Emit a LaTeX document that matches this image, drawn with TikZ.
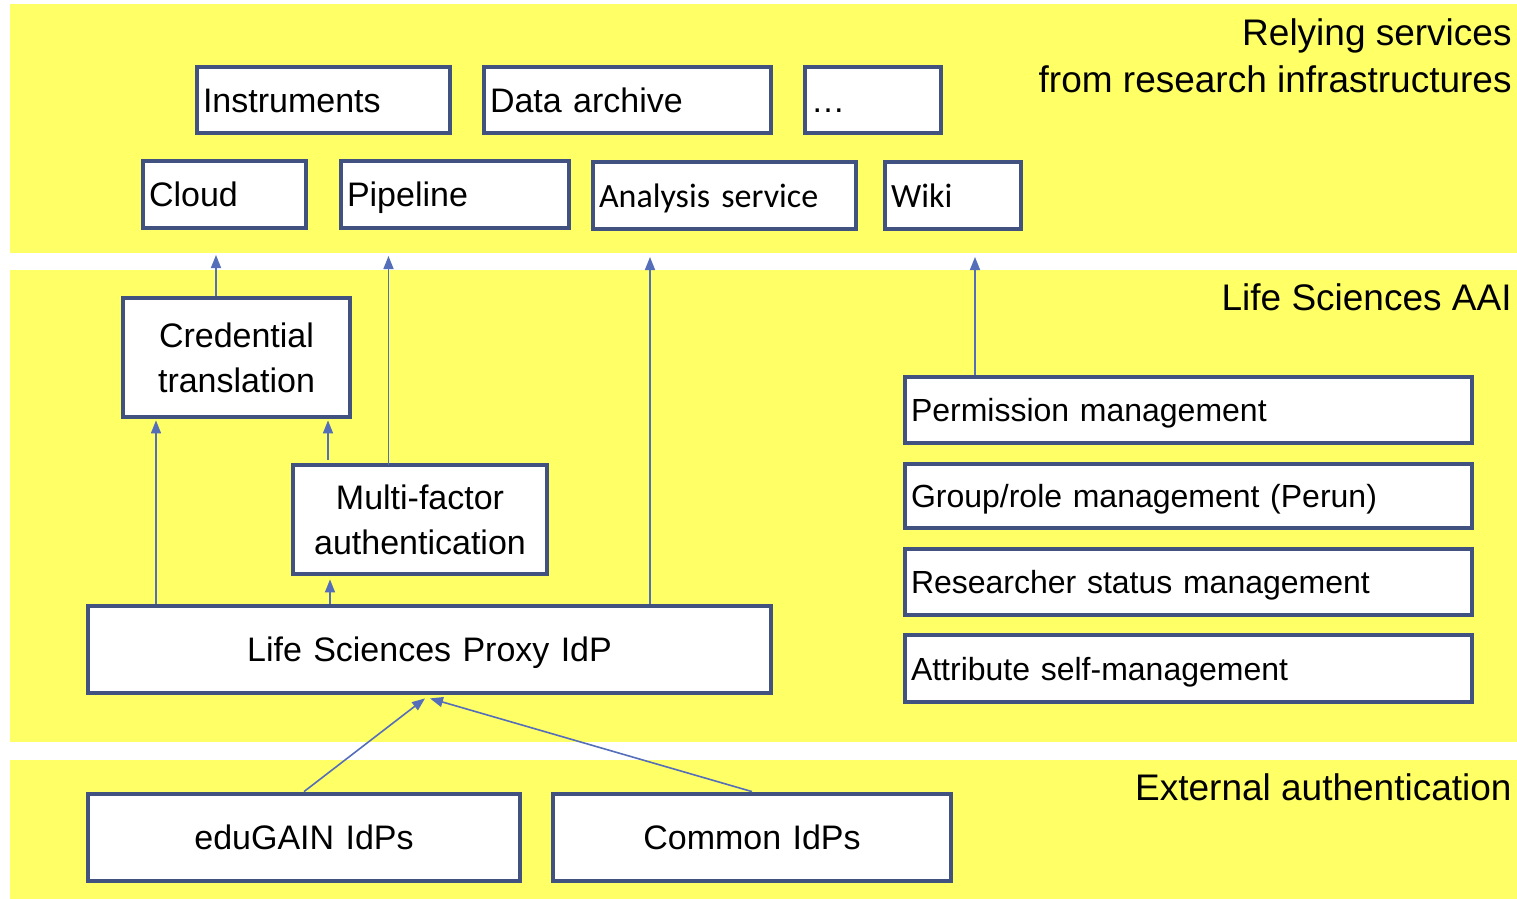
\documentclass[tikz,border=0pt]{standalone}
\usepackage{fontspec}
\setmainfont{Liberation Sans}
\newfontfamily\carlito{Carlito}
\usetikzlibrary{arrows.meta,calc}
\definecolor{bandy}{HTML}{FFFF66}
\definecolor{boxc}{RGB}{66,82,128}
\definecolor{arrc}{RGB}{85,110,185}
\tikzset{
  band/.style={fill=bandy, draw=none},
  box/.style={draw=boxc, line width=2.4pt, fill=white, inner xsep=3pt, inner ysep=0pt, align=left},
  one/.style={text height=12.2pt, text depth=0pt},
  onesm/.style={text height=11.5pt, text depth=0pt},
  ftb/.style={font=\fontsize{17}{22.5}\selectfont},
  fts/.style={font=\fontsize{16}{20}\selectfont},
  ftl/.style={font=\fontsize{18.5}{23.5}\selectfont},
  conn/.style={draw=arrc, line width=0.8pt, -{Triangle[length=6.5pt,width=5pt]}},
  lab/.style={ftl, inner sep=0pt, anchor=base east}
}
\begin{document}
\begin{tikzpicture}[x=0.5pt, y=-0.5pt]
\useasboundingbox (0,0) rectangle (1517,899);
% bands
\fill[band] (10,4) rectangle (1517,253);
\fill[band] (10,270) rectangle (1517,742);
\fill[band] (10,760) rectangle (1517,899);
% labels
\node[lab] (rs1) at (1512,46) {Relying services};
\node[lab] (rs2) at (1512,93) {from research infrastructures};
\node[lab] (lsaai) at (1512,310) {Life Sciences AAI};
\node[lab] (ext) at (1512,800) {External authentication};
% top services
\node[box, one, ftb, minimum height=33pt, text width=120.5pt] (instr) at (323.5,100) {Instruments};
\node[box, one, ftb, minimum height=33pt, text width=137.5pt] (arch) at (627.5,100) {Data archive};
\node[box, one, ftb, minimum height=33pt, text width=62pt] (dots) at (873,100) {\dots};
\node[box, one, ftb, minimum height=33.5pt, text width=75.5pt] (cloud) at (224.5,194.5) {Cloud};
\node[box, one, ftb, minimum height=33.5pt, text width=108pt] (pipe) at (455,194.5) {Pipeline};
\node[box, one, ftb, font=\carlito\fontsize{17}{22.5}\selectfont, minimum height=33.5pt, text width=125.5pt] (anal) at (724.5,195.5) {Analysis service};
\node[box, one, ftb, font=\carlito\fontsize{17}{22.5}\selectfont, minimum height=33.5pt, text width=62pt] (wiki) at (953,195.5) {Wiki};
% AAI
\node[box, ftb, align=center, minimum height=59.5pt, text width=107.5pt] (cred) at (236.5,357.5) {Credential\\translation};
\node[box, ftb, align=center, minimum height=54.5pt, text width=121pt] (mfa) at (420,519.5) {Multi-factor\\authentication};
\node[box, one, ftb, align=center, minimum height=43.5pt, text width=335.5pt] (proxy) at (429.5,649.5) {Life Sciences Proxy IdP};
\node[box, onesm, fts, minimum height=33pt, text width=277.5pt] (perm) at (1188.5,410) {Permission management};
\node[box, onesm, fts, minimum height=32pt, text width=277.5pt] (group) at (1188.5,496) {Group/role management (Perun)};
\node[box, onesm, fts, minimum height=33pt, text width=277.5pt] (res) at (1188.5,582) {Researcher status management};
\node[box, onesm, fts, minimum height=33.5pt, text width=277.5pt] (attr) at (1188.5,668.5) {Attribute self-management};
% external
\node[box, one, ftb, align=center, minimum height=43.5pt, text width=210pt] (edu) at (304,837.5) {eduGAIN IdPs};
\node[box, one, ftb, align=center, minimum height=43.5pt, text width=193pt] (com) at (752,837.5) {Common IdPs};
% connectors
\coordinate (t1) at (216,255);
\coordinate (t2) at (388.5,256);
\coordinate (t3) at (650,257);
\coordinate (t4) at (975,257);
\coordinate (x1) at (156,500);
\coordinate (x2) at (328,500);
\coordinate (x3) at (330,500);
\draw[conn] (cred.north -| t1) -- (t1);
\draw[conn] ([yshift=-1pt]mfa.north -| t2) -- (t2);
\draw[conn] (proxy.north -| t3) -- (t3);
\draw[conn] (perm.north -| t4) -- (t4);
\draw[conn] (proxy.north -| x1) -- ([yshift=-0.5pt]cred.south -| x1);
\draw[conn] ([yshift=1.5pt]mfa.north -| x2) -- ([yshift=-0.5pt]cred.south -| x2);
\draw[conn] (proxy.north -| x3) -- ([yshift=-1.5pt]mfa.south -| x3);
\draw[conn] (edu.north) -- ([xshift=-2.25pt,yshift=-1.5pt]proxy.south);
\draw[conn] (com.north) -- ([xshift=0.25pt,yshift=-1.5pt]proxy.south);
\end{tikzpicture}
\end{document}
